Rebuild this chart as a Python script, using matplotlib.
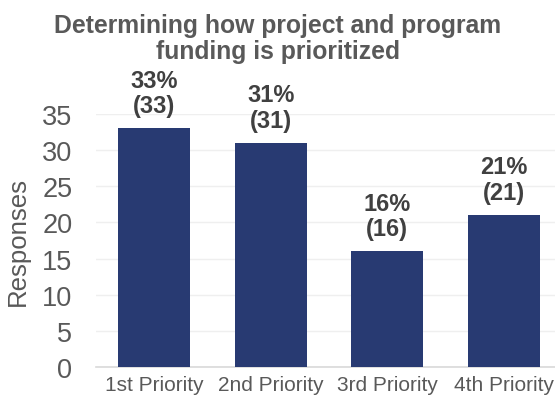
import matplotlib
matplotlib.use("Agg")
import matplotlib.pyplot as plt

categories = ["1st Priority", "2nd Priority", "3rd Priority", "4th Priority"]
responses = [33, 31, 16, 21]
percents = ["33%", "31%", "16%", "21%"]
title = "Determining how project and program\nfunding is prioritized"
ylabel = "Responses"
yticks = [0, 5, 10, 15, 20, 25, 30, 35]

plt.rcParams['font.family'] = ['Liberation Sans', 'DejaVu Sans']

fig = plt.figure(figsize=(5.55, 4.06), dpi=100)
ax = fig.add_axes([96/555, 1-368/406, 1-96/555, (368-115)/406])

bar_color = "#283A72"
x = list(range(len(categories)))
bars = ax.bar(x, responses, width=0.62, color=bar_color, zorder=3)

ax.set_xlim(-0.5, 3.44)
ax.set_ylim(0, 35)
ax.set_yticks(yticks)
ax.set_xticks(x)
ax.set_xticklabels(categories, fontsize=15, color="#595959")
ax.tick_params(axis='y', labelsize=19.5, colors="#595959", length=0, pad=17)
ax.tick_params(axis='x', length=0, pad=6)
ax.grid(axis='y', color="#EFEFEF", linewidth=1, zorder=0)
ax.set_axisbelow(True)
for s in ["top", "right", "left"]:
    ax.spines[s].set_visible(False)
ax.spines["bottom"].set_color("#D9D9D9")
ax.spines["bottom"].set_linewidth(1.2)

ax.set_ylabel(ylabel, fontsize=18.5, color="#595959")
ax.yaxis.set_label_coords(-(96-18)/459, 0.5)
ax.yaxis.label.set_va("center")

for xi, v, p in zip(x, responses, percents):
    ax.annotate(f"{p}\n({v})", xy=(xi, v), xytext=(0, 8), textcoords="offset points",
                ha="center", va="bottom", fontsize=17, fontweight="bold",
                color="#404040", linespacing=1.15, annotation_clip=False)

fig.text(0.5, 1-39/406, title, ha="center", va="center", fontsize=17.8,
         fontweight="bold", color="#595959", linespacing=1.12)

fig.savefig("out.png", dpi=100)
